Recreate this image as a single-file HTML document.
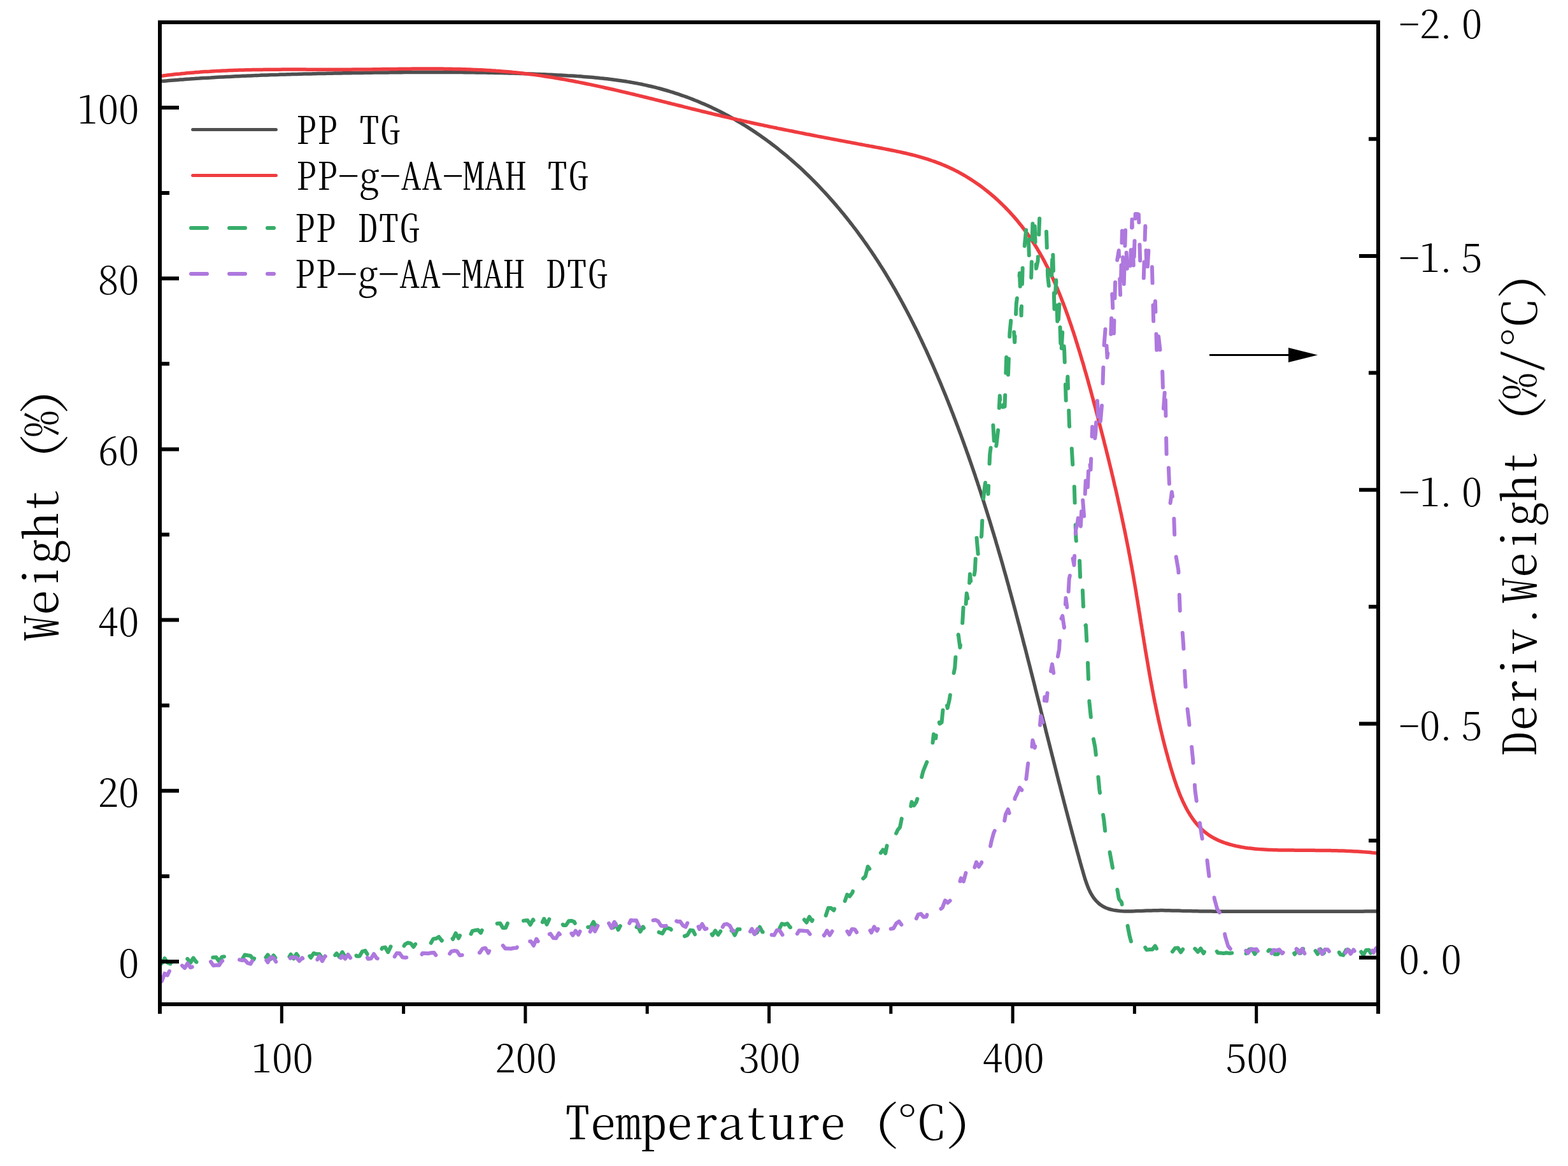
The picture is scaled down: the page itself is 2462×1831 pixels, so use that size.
<!DOCTYPE html><html><head><meta charset="utf-8"><title>TG/DTG</title><style>
html,body{margin:0;padding:0;background:#fff;overflow:hidden;}svg{display:block;}
.t{font-family:"Noto Serif CJK SC","Liberation Serif","Noto Serif CJK JP",serif;font-feature-settings:"hwid" 1;font-weight:300;fill:#000;}
</style></head><body>
<svg width="2462" height="1831" viewBox="0 0 2462 1831">
<rect width="2462" height="1831" fill="#fff"/>
<defs><clipPath id="pc"><rect x="254" y="38" width="1907" height="1536"/></clipPath></defs>
<g clip-path="url(#pc)" fill="none" stroke-linejoin="round">
<path d="M254 127.5 L257.7 127.2 L261.3 126.9 L265 126.6 L268.6 126.3 L272.3 126 L275.9 125.7 L279.5 125.4 L283.2 125.1 L286.8 124.9 L290.5 124.6 L294.1 124.3 L297.8 124.1 L301.4 123.8 L305.1 123.6 L308.7 123.3 L312.4 123.1 L316 122.8 L319.7 122.6 L323.3 122.4 L327 122.2 L330.7 122 L334.3 121.7 L338 121.5 L341.6 121.3 L345.3 121.1 L348.9 120.9 L352.6 120.7 L356.3 120.5 L359.9 120.4 L363.6 120.2 L367.2 120 L370.9 119.8 L374.6 119.7 L378.2 119.5 L381.9 119.3 L385.5 119.2 L389.2 119 L392.9 118.9 L396.5 118.7 L400.2 118.6 L403.9 118.4 L407.5 118.3 L411.2 118.1 L414.9 118 L418.5 117.9 L422.2 117.7 L425.9 117.6 L429.5 117.5 L433.2 117.4 L436.9 117.3 L440.5 117.1 L444.2 117 L447.8 116.9 L451.5 116.8 L455.2 116.7 L458.8 116.6 L462.5 116.5 L466.2 116.4 L469.8 116.3 L473.5 116.2 L477.2 116.1 L480.8 116 L484.5 116 L488.2 115.9 L491.8 115.8 L495.5 115.7 L499.2 115.6 L502.8 115.5 L506.5 115.5 L510.2 115.4 L513.8 115.3 L517.5 115.2 L521.2 115.2 L524.8 115.1 L528.5 115 L532.1 115 L535.8 114.9 L539.5 114.8 L543.1 114.8 L546.8 114.7 L550.5 114.7 L554.1 114.6 L557.8 114.5 L561.4 114.5 L565.1 114.4 L568.8 114.4 L572.4 114.3 L576.1 114.3 L579.7 114.2 L583.4 114.2 L587 114.1 L590.7 114.1 L594.4 114 L598 114 L601.7 113.9 L605.3 113.9 L609 113.9 L612.6 113.8 L616.3 113.8 L620 113.7 L623.6 113.7 L627.3 113.7 L630.9 113.7 L634.6 113.6 L638.2 113.6 L641.9 113.6 L645.5 113.6 L649.2 113.5 L652.8 113.5 L656.5 113.5 L660.2 113.5 L663.8 113.5 L667.5 113.5 L671.1 113.5 L674.8 113.4 L678.4 113.4 L682.1 113.4 L685.7 113.4 L689.4 113.5 L693 113.5 L696.7 113.5 L700.4 113.5 L704 113.5 L707.7 113.5 L711.3 113.5 L715 113.6 L718.6 113.6 L722.3 113.6 L725.9 113.6 L729.6 113.7 L733.3 113.7 L736.9 113.8 L740.6 113.8 L744.2 113.8 L747.9 113.9 L751.5 113.9 L755.2 114 L758.9 114.1 L762.5 114.1 L766.2 114.2 L769.8 114.3 L773.5 114.3 L777.2 114.4 L780.8 114.5 L784.5 114.6 L788.1 114.6 L791.8 114.7 L795.5 114.8 L799.1 114.9 L802.8 115 L806.4 115.1 L810.1 115.2 L813.8 115.3 L817.4 115.5 L821.1 115.6 L824.8 115.7 L828.4 115.8 L832.1 116 L835.8 116.1 L839.4 116.2 L843.1 116.4 L846.8 116.5 L850.5 116.7 L854.1 116.8 L857.8 117 L861.5 117.2 L865.1 117.3 L868.8 117.5 L872.5 117.7 L876.2 117.9 L879.8 118 L883.5 118.2 L887.2 118.4 L890.9 118.7 L894.5 118.9 L898.2 119.1 L901.9 119.3 L905.6 119.6 L909.2 119.8 L912.9 120.1 L916.6 120.4 L920.2 120.7 L923.9 121 L927.6 121.3 L931.2 121.6 L934.9 121.9 L938.5 122.3 L942.2 122.7 L945.8 123 L949.5 123.4 L953.1 123.8 L956.8 124.3 L960.4 124.7 L964.1 125.2 L967.7 125.7 L971.3 126.2 L975 126.7 L978.6 127.2 L982.2 127.8 L985.8 128.4 L989.4 129 L993 129.6 L996.6 130.3 L1000.2 130.9 L1003.8 131.6 L1007.4 132.3 L1010.9 133.1 L1014.5 133.9 L1018.1 134.7 L1021.6 135.5 L1025.2 136.3 L1028.7 137.2 L1032.3 138.1 L1035.8 139 L1039.3 140 L1042.9 141 L1046.4 142 L1049.9 143 L1053.4 144.1 L1056.9 145.1 L1060.3 146.3 L1063.8 147.4 L1067.3 148.6 L1070.7 149.8 L1074.2 151 L1077.6 152.2 L1081.1 153.5 L1084.5 154.8 L1087.9 156.1 L1091.3 157.5 L1094.7 158.8 L1098.1 160.2 L1101.4 161.7 L1104.8 163.1 L1108.1 164.6 L1111.5 166.1 L1114.8 167.6 L1118.1 169.1 L1121.4 170.7 L1124.7 172.3 L1128 173.9 L1131.2 175.5 L1134.5 177.2 L1137.7 178.9 L1141 180.6 L1144.2 182.3 L1147.4 184.1 L1150.6 185.9 L1153.8 187.7 L1156.9 189.5 L1160.1 191.3 L1163.2 193.2 L1166.3 195.1 L1169.5 197 L1172.5 198.9 L1175.6 200.9 L1178.7 202.9 L1181.8 204.9 L1184.8 206.9 L1187.8 208.9 L1190.8 211 L1193.8 213.1 L1196.8 215.2 L1199.8 217.3 L1202.8 219.4 L1205.7 221.6 L1208.7 223.8 L1211.6 226 L1214.5 228.2 L1217.4 230.4 L1220.3 232.7 L1223.1 235 L1226 237.3 L1228.8 239.6 L1231.6 241.9 L1234.5 244.2 L1237.3 246.6 L1240 249 L1242.8 251.4 L1245.6 253.8 L1248.3 256.2 L1251.1 258.7 L1253.8 261.1 L1256.5 263.6 L1259.2 266.1 L1261.8 268.6 L1264.5 271.2 L1267.2 273.7 L1269.8 276.3 L1272.4 278.8 L1275 281.4 L1277.6 284 L1280.2 286.7 L1282.8 289.3 L1285.3 291.9 L1287.9 294.6 L1290.4 297.3 L1292.9 300 L1295.4 302.7 L1297.9 305.4 L1300.4 308.1 L1302.8 310.8 L1305.3 313.6 L1307.7 316.4 L1310.1 319.1 L1312.5 321.9 L1314.9 324.7 L1317.3 327.5 L1319.7 330.4 L1322 333.2 L1324.4 336.1 L1326.7 338.9 L1329 341.8 L1331.3 344.7 L1333.6 347.6 L1335.8 350.5 L1338.1 353.4 L1340.3 356.3 L1342.5 359.2 L1344.8 362.1 L1347 365.1 L1349.1 368.1 L1351.3 371 L1353.5 374 L1355.6 377 L1357.7 380 L1359.9 383 L1362 386 L1364 389 L1366.1 392 L1368.2 395 L1370.2 398.1 L1372.3 401.1 L1374.3 404.2 L1376.3 407.2 L1378.3 410.3 L1380.3 413.4 L1382.2 416.5 L1384.2 419.5 L1386.1 422.6 L1388.1 425.7 L1390 428.8 L1391.9 432 L1393.8 435.1 L1395.6 438.2 L1397.5 441.3 L1399.4 444.5 L1401.2 447.6 L1403 450.8 L1404.9 453.9 L1406.7 457.1 L1408.5 460.3 L1410.2 463.4 L1412 466.6 L1413.8 469.8 L1415.5 473 L1417.3 476.2 L1419 479.4 L1420.7 482.6 L1422.4 485.8 L1424.1 489 L1425.8 492.3 L1427.5 495.5 L1429.2 498.7 L1430.8 502 L1432.5 505.2 L1434.1 508.5 L1435.7 511.7 L1437.4 515 L1439 518.3 L1440.6 521.5 L1442.2 524.8 L1443.7 528.1 L1445.3 531.4 L1446.9 534.7 L1448.4 538 L1450 541.3 L1451.5 544.6 L1453.1 547.9 L1454.6 551.2 L1456.1 554.5 L1457.6 557.8 L1459.1 561.2 L1460.6 564.5 L1462.1 567.8 L1463.6 571.2 L1465.1 574.5 L1466.5 577.9 L1468 581.2 L1469.4 584.6 L1470.9 587.9 L1472.3 591.3 L1473.7 594.7 L1475.2 598.1 L1476.6 601.4 L1478 604.8 L1479.4 608.2 L1480.8 611.6 L1482.2 615 L1483.6 618.4 L1485 621.7 L1486.3 625.1 L1487.7 628.5 L1489.1 632 L1490.4 635.4 L1491.8 638.8 L1493.1 642.2 L1494.4 645.6 L1495.8 649 L1497.1 652.5 L1498.4 655.9 L1499.7 659.3 L1501 662.7 L1502.3 666.2 L1503.6 669.6 L1504.9 673.1 L1506.2 676.5 L1507.5 679.9 L1508.8 683.4 L1510 686.8 L1511.3 690.3 L1512.5 693.7 L1513.8 697.2 L1515 700.7 L1516.3 704.1 L1517.5 707.6 L1518.7 711.1 L1520 714.5 L1521.2 718 L1522.4 721.5 L1523.6 724.9 L1524.8 728.4 L1526 731.9 L1527.2 735.4 L1528.4 738.9 L1529.6 742.3 L1530.8 745.8 L1531.9 749.3 L1533.1 752.8 L1534.3 756.3 L1535.4 759.8 L1536.6 763.3 L1537.7 766.8 L1538.9 770.3 L1540 773.8 L1541.1 777.3 L1542.3 780.8 L1543.4 784.3 L1544.5 787.8 L1545.6 791.3 L1546.7 794.8 L1547.8 798.3 L1548.9 801.8 L1550 805.3 L1551.1 808.8 L1552.2 812.3 L1553.3 815.8 L1554.4 819.3 L1555.4 822.8 L1556.5 826.4 L1557.6 829.9 L1558.6 833.4 L1559.7 836.9 L1560.8 840.4 L1561.8 843.9 L1562.9 847.4 L1563.9 851 L1564.9 854.5 L1566 858 L1567 861.5 L1568 865 L1569 868.5 L1570.1 872.1 L1571.1 875.6 L1572.1 879.1 L1573.1 882.6 L1574.1 886.1 L1575.1 889.6 L1576.1 893.2 L1577.1 896.7 L1578.1 900.2 L1579.1 903.7 L1580.1 907.2 L1581 910.8 L1582 914.3 L1583 917.8 L1584 921.3 L1584.9 924.9 L1585.9 928.4 L1586.9 931.9 L1587.8 935.4 L1588.8 938.9 L1589.7 942.5 L1590.7 946 L1591.6 949.5 L1592.6 953 L1593.5 956.6 L1594.5 960.1 L1595.4 963.6 L1596.3 967.1 L1597.3 970.7 L1598.2 974.2 L1599.1 977.7 L1600.1 981.3 L1601 984.8 L1601.9 988.3 L1602.8 991.8 L1603.8 995.4 L1604.7 998.9 L1605.6 1002.4 L1606.5 1006 L1607.4 1009.5 L1608.3 1013 L1609.3 1016.6 L1610.2 1020.1 L1611.1 1023.6 L1612 1027.2 L1612.9 1030.7 L1613.8 1034.2 L1614.7 1037.8 L1615.6 1041.3 L1616.5 1044.8 L1617.4 1048.4 L1618.3 1051.9 L1619.2 1055.5 L1620.1 1059 L1621 1062.5 L1621.9 1066.1 L1622.8 1069.6 L1623.7 1073.2 L1624.6 1076.7 L1625.4 1080.2 L1626.3 1083.8 L1627.2 1087.3 L1628.1 1090.9 L1629 1094.4 L1629.9 1098 L1630.8 1101.5 L1631.7 1105.1 L1632.6 1108.6 L1633.5 1112.2 L1634.3 1115.7 L1635.2 1119.2 L1636.1 1122.8 L1637 1126.3 L1637.9 1129.9 L1638.8 1133.4 L1639.7 1137 L1640.6 1140.5 L1641.5 1144.1 L1642.3 1147.7 L1643.2 1151.2 L1644.1 1154.8 L1645 1158.3 L1645.9 1161.9 L1646.8 1165.4 L1647.7 1169 L1648.6 1172.5 L1649.5 1176.1 L1650.4 1179.7 L1651.3 1183.2 L1652.2 1186.8 L1653.1 1190.3 L1654 1193.9 L1654.9 1197.5 L1655.8 1201 L1656.7 1204.6 L1657.6 1208.2 L1658.5 1211.7 L1659.4 1215.3 L1660.3 1218.9 L1661.2 1222.4 L1662.1 1226 L1663 1229.6 L1664 1233.1 L1664.9 1236.7 L1665.8 1240.3 L1666.7 1243.8 L1667.6 1247.4 L1668.6 1251 L1669.5 1254.6 L1670.4 1258.1 L1671.3 1261.7 L1672.3 1265.3 L1673.2 1268.9 L1674.1 1272.4 L1675.1 1276 L1676 1279.6 L1677 1283.2 L1677.9 1286.7 L1678.9 1290.3 L1679.8 1293.9 L1680.8 1297.5 L1681.7 1301.1 L1682.7 1304.7 L1683.6 1308.2 L1684.6 1311.8 L1685.6 1315.4 L1686.5 1319 L1687.5 1322.6 L1688.5 1326.2 L1689.5 1329.8 L1690.5 1333.4 L1691.4 1336.9 L1692.4 1340.5 L1693.4 1344.1 L1694.4 1347.7 L1695.4 1351.3 L1696.4 1354.9 L1697.4 1358.5 L1698.4 1362.1 L1699.5 1365.7 L1700.5 1369.3 L1701.5 1372.9 L1702.6 1376.5 L1703.6 1380 L1704.8 1383.5 L1706 1387 L1707.2 1390.3 L1708.5 1393.7 L1709.9 1396.9 L1711.4 1400.1 L1713 1403.1 L1714.7 1406 L1716.5 1408.8 L1718.5 1411.5 L1720.6 1414.1 L1722.9 1416.4 L1725.3 1418.7 L1727.9 1420.7 L1730.6 1422.6 L1733.6 1424.2 L1736.7 1425.7 L1740 1427 L1743.4 1428 L1747 1428.9 L1750.6 1429.6 L1754.4 1430.1 L1758.1 1430.5 L1762 1430.8 L1765.8 1430.9 L1769.7 1430.9 L1773.6 1430.9 L1777.5 1430.9 L1781.3 1430.8 L1785.2 1430.6 L1788.9 1430.5 L1792.7 1430.4 L1796.4 1430.2 L1800.1 1430.1 L1803.7 1430 L1807.4 1429.9 L1811 1429.8 L1814.7 1429.7 L1818.3 1429.7 L1821.9 1429.6 L1825.5 1429.6 L1829.2 1429.7 L1832.8 1429.7 L1836.4 1429.8 L1840 1429.9 L1843.7 1430 L1847.3 1430 L1850.9 1430.1 L1854.6 1430.3 L1858.2 1430.4 L1861.8 1430.4 L1865.5 1430.5 L1869.1 1430.6 L1872.8 1430.7 L1876.4 1430.8 L1880.1 1430.8 L1883.7 1430.9 L1887.4 1431 L1891 1431 L1894.7 1431.1 L1898.4 1431.1 L1902 1431.1 L1905.7 1431.2 L1909.3 1431.2 L1913 1431.2 L1916.7 1431.2 L1920.3 1431.3 L1924 1431.3 L1927.7 1431.3 L1931.3 1431.3 L1935 1431.3 L1938.7 1431.3 L1942.4 1431.3 L1946 1431.3 L1949.7 1431.3 L1953.4 1431.3 L1957 1431.3 L1960.7 1431.3 L1964.4 1431.3 L1968.1 1431.3 L1971.7 1431.3 L1975.4 1431.3 L1979.1 1431.3 L1982.7 1431.3 L1986.4 1431.2 L1990.1 1431.2 L1993.7 1431.2 L1997.4 1431.2 L2001.1 1431.2 L2004.7 1431.2 L2008.4 1431.2 L2012.1 1431.2 L2015.7 1431.2 L2019.4 1431.2 L2023.1 1431.2 L2026.7 1431.2 L2030.4 1431.2 L2034 1431.2 L2037.7 1431.2 L2041.4 1431.2 L2045 1431.2 L2048.7 1431.2 L2052.3 1431.2 L2056 1431.2 L2059.6 1431.2 L2063.3 1431.3 L2067 1431.3 L2070.6 1431.3 L2074.3 1431.3 L2077.9 1431.3 L2081.6 1431.3 L2085.2 1431.3 L2088.9 1431.3 L2092.5 1431.3 L2096.2 1431.3 L2099.9 1431.3 L2103.5 1431.3 L2107.2 1431.3 L2110.8 1431.3 L2114.5 1431.2 L2118.2 1431.2 L2121.8 1431.2 L2125.5 1431.2 L2129.1 1431.2 L2132.8 1431.2 L2136.5 1431.2 L2140.1 1431.2 L2143.8 1431.1 L2147.5 1431.1 L2151.2 1431.1 L2154.8 1431.1 L2158.5 1431 L2164 1431" stroke="#4f4f4f" stroke-width="5.5"/>
<path d="M253.9 119.2 L257.5 118.7 L261.1 118.3 L264.7 117.8 L268.2 117.4 L271.8 117 L275.4 116.6 L279 116.2 L282.6 115.9 L286.1 115.5 L289.7 115.2 L293.3 114.8 L296.9 114.5 L300.4 114.2 L304 113.9 L307.6 113.6 L311.2 113.4 L314.8 113.1 L318.3 112.8 L321.9 112.6 L325.5 112.4 L329.1 112.2 L332.6 111.9 L336.2 111.7 L339.8 111.6 L343.3 111.4 L346.9 111.2 L350.5 111 L354.1 110.9 L357.6 110.7 L361.2 110.6 L364.8 110.5 L368.4 110.3 L371.9 110.2 L375.5 110.1 L379.1 110 L382.6 109.9 L386.2 109.8 L389.8 109.7 L393.4 109.7 L396.9 109.6 L400.5 109.5 L404.1 109.5 L407.6 109.4 L411.2 109.4 L414.8 109.3 L418.3 109.3 L421.9 109.3 L425.5 109.2 L429.1 109.2 L432.6 109.2 L436.2 109.2 L439.8 109.2 L443.4 109.1 L446.9 109.1 L450.5 109.1 L454.1 109.1 L457.6 109.1 L461.2 109.1 L464.8 109.1 L468.4 109.1 L471.9 109.1 L475.5 109.1 L479.1 109.1 L482.7 109.2 L486.3 109.2 L489.8 109.2 L493.4 109.2 L497 109.2 L500.6 109.2 L504.1 109.2 L507.7 109.2 L511.3 109.2 L514.9 109.2 L518.5 109.2 L522 109.2 L525.6 109.2 L529.2 109.2 L532.8 109.2 L536.4 109.2 L540 109.2 L543.5 109.2 L547.1 109.2 L550.7 109.2 L554.3 109.1 L557.9 109.1 L561.5 109.1 L565.1 109.1 L568.7 109 L572.3 109 L575.8 109 L579.4 108.9 L583 108.9 L586.6 108.8 L590.2 108.8 L593.8 108.7 L597.4 108.7 L601 108.6 L604.6 108.6 L608.2 108.6 L611.8 108.5 L615.4 108.5 L619 108.4 L622.6 108.4 L626.2 108.3 L629.8 108.3 L633.4 108.3 L637 108.2 L640.5 108.2 L644.1 108.2 L647.7 108.1 L651.3 108.1 L654.9 108.1 L658.5 108.1 L662.1 108.1 L665.7 108 L669.3 108 L672.9 108 L676.5 108 L680.1 108.1 L683.7 108.1 L687.3 108.1 L690.9 108.1 L694.4 108.1 L698 108.2 L701.6 108.2 L705.2 108.3 L708.8 108.3 L712.4 108.4 L716 108.5 L719.6 108.6 L723.1 108.6 L726.7 108.7 L730.3 108.8 L733.9 109 L737.5 109.1 L741 109.2 L744.6 109.4 L748.2 109.5 L751.8 109.7 L755.4 109.8 L758.9 110 L762.5 110.2 L766.1 110.4 L769.6 110.6 L773.2 110.9 L776.8 111.1 L780.3 111.4 L783.9 111.6 L787.5 111.9 L791 112.2 L794.6 112.5 L798.2 112.8 L801.7 113.1 L805.3 113.5 L808.8 113.8 L812.4 114.2 L815.9 114.6 L819.5 115 L823 115.4 L826.6 115.8 L830.1 116.2 L833.6 116.7 L837.2 117.1 L840.7 117.6 L844.3 118.1 L847.8 118.6 L851.3 119.1 L854.9 119.7 L858.4 120.2 L861.9 120.7 L865.5 121.3 L869 121.9 L872.5 122.5 L876 123.1 L879.6 123.7 L883.1 124.3 L886.6 124.9 L890.1 125.5 L893.6 126.2 L897.1 126.8 L900.7 127.5 L904.2 128.2 L907.7 128.9 L911.2 129.6 L914.7 130.3 L918.2 131 L921.7 131.7 L925.2 132.4 L928.7 133.1 L932.2 133.9 L935.7 134.6 L939.2 135.4 L942.8 136.1 L946.3 136.9 L949.8 137.7 L953.3 138.5 L956.7 139.2 L960.2 140 L963.7 140.8 L967.2 141.6 L970.7 142.4 L974.2 143.3 L977.7 144.1 L981.2 144.9 L984.7 145.7 L988.2 146.6 L991.7 147.4 L995.2 148.2 L998.7 149.1 L1002.2 149.9 L1005.6 150.8 L1009.1 151.6 L1012.6 152.5 L1016.1 153.3 L1019.6 154.2 L1023.1 155 L1026.6 155.9 L1030 156.8 L1033.5 157.6 L1037 158.5 L1040.5 159.4 L1044 160.2 L1047.5 161.1 L1050.9 162 L1054.4 162.9 L1057.9 163.7 L1061.4 164.6 L1064.9 165.5 L1068.3 166.3 L1071.8 167.2 L1075.3 168.1 L1078.8 168.9 L1082.3 169.8 L1085.7 170.7 L1089.2 171.5 L1092.7 172.4 L1096.2 173.2 L1099.7 174.1 L1103.1 175 L1106.6 175.8 L1110.1 176.6 L1113.6 177.5 L1117.1 178.3 L1120.5 179.2 L1124 180 L1127.5 180.8 L1131 181.6 L1134.5 182.5 L1137.9 183.3 L1141.4 184.1 L1144.9 184.9 L1148.4 185.7 L1151.9 186.5 L1155.3 187.3 L1158.8 188.1 L1162.3 188.8 L1165.8 189.6 L1169.3 190.4 L1172.8 191.2 L1176.2 191.9 L1179.7 192.7 L1183.2 193.5 L1186.7 194.2 L1190.2 195 L1193.7 195.7 L1197.2 196.4 L1200.6 197.2 L1204.1 197.9 L1207.6 198.7 L1211.1 199.4 L1214.6 200.1 L1218.1 200.8 L1221.6 201.6 L1225.1 202.3 L1228.6 203 L1232.1 203.7 L1235.6 204.4 L1239.1 205.1 L1242.6 205.8 L1246.1 206.5 L1249.6 207.2 L1253.1 207.9 L1256.6 208.6 L1260.1 209.3 L1263.6 210 L1267.1 210.7 L1270.6 211.3 L1274.1 212 L1277.6 212.7 L1281.1 213.4 L1284.6 214.1 L1288.1 214.7 L1291.6 215.4 L1295.2 216.1 L1298.7 216.8 L1302.2 217.4 L1305.7 218.1 L1309.2 218.8 L1312.8 219.4 L1316.3 220.1 L1319.8 220.8 L1323.3 221.4 L1326.9 222.1 L1330.4 222.8 L1333.9 223.4 L1337.5 224.1 L1341 224.8 L1344.5 225.4 L1348.1 226.1 L1351.6 226.7 L1355.2 227.4 L1358.7 228.1 L1362.3 228.7 L1365.8 229.4 L1369.4 230 L1372.9 230.7 L1376.5 231.4 L1380 232 L1383.6 232.7 L1387.1 233.4 L1390.7 234.1 L1394.2 234.8 L1397.8 235.5 L1401.3 236.2 L1404.9 236.9 L1408.4 237.7 L1411.9 238.4 L1415.5 239.2 L1419 240 L1422.5 240.8 L1426 241.6 L1429.5 242.5 L1433 243.3 L1436.4 244.2 L1439.9 245.2 L1443.4 246.1 L1446.8 247.1 L1450.2 248.1 L1453.6 249.2 L1457 250.2 L1460.4 251.3 L1463.8 252.5 L1467.2 253.6 L1470.5 254.9 L1473.8 256.1 L1477.2 257.4 L1480.4 258.7 L1483.7 260.1 L1487 261.5 L1490.2 263 L1493.4 264.5 L1496.6 266 L1499.8 267.6 L1503 269.2 L1506.1 270.9 L1509.2 272.6 L1512.3 274.4 L1515.4 276.2 L1518.4 278 L1521.4 279.9 L1524.5 281.8 L1527.4 283.7 L1530.4 285.7 L1533.3 287.7 L1536.3 289.7 L1539.2 291.8 L1542 293.9 L1544.9 296.1 L1547.7 298.3 L1550.5 300.5 L1553.3 302.8 L1556 305 L1558.7 307.4 L1561.4 309.7 L1564.1 312.1 L1566.8 314.5 L1569.4 316.9 L1572 319.4 L1574.5 321.9 L1577.1 324.4 L1579.6 327 L1582.1 329.6 L1584.6 332.2 L1587 334.8 L1589.4 337.5 L1591.8 340.2 L1594.1 342.9 L1596.5 345.6 L1598.8 348.4 L1601 351.2 L1603.3 354 L1605.5 356.8 L1607.6 359.6 L1609.8 362.5 L1611.9 365.4 L1614 368.3 L1616 371.3 L1618.1 374.2 L1620.1 377.2 L1622 380.2 L1624 383.2 L1625.9 386.2 L1627.8 389.2 L1629.6 392.3 L1631.4 395.4 L1633.2 398.5 L1635 401.6 L1636.8 404.7 L1638.5 407.9 L1640.2 411 L1641.8 414.2 L1643.5 417.4 L1645.1 420.6 L1646.7 423.8 L1648.3 427 L1649.9 430.2 L1651.4 433.5 L1652.9 436.7 L1654.4 440 L1655.9 443.3 L1657.3 446.6 L1658.7 449.9 L1660.2 453.2 L1661.5 456.5 L1662.9 459.8 L1664.3 463.2 L1665.6 466.5 L1666.9 469.9 L1668.2 473.2 L1669.5 476.6 L1670.8 479.9 L1672.1 483.3 L1673.3 486.7 L1674.5 490.1 L1675.8 493.5 L1677 496.9 L1678.2 500.3 L1679.3 503.7 L1680.5 507.1 L1681.7 510.5 L1682.8 513.9 L1683.9 517.3 L1685.1 520.7 L1686.2 524.1 L1687.3 527.5 L1688.4 530.9 L1689.4 534.4 L1690.5 537.8 L1691.6 541.2 L1692.6 544.6 L1693.7 548 L1694.7 551.4 L1695.8 554.8 L1696.8 558.3 L1697.8 561.7 L1698.8 565.1 L1699.9 568.5 L1700.9 571.9 L1701.9 575.4 L1702.8 578.8 L1703.8 582.2 L1704.8 585.6 L1705.8 589 L1706.8 592.5 L1707.7 595.9 L1708.7 599.3 L1709.6 602.8 L1710.6 606.2 L1711.5 609.6 L1712.5 613.1 L1713.4 616.5 L1714.3 619.9 L1715.3 623.4 L1716.2 626.8 L1717.1 630.3 L1718 633.7 L1719 637.1 L1719.9 640.6 L1720.8 644 L1721.7 647.5 L1722.6 651 L1723.5 654.4 L1724.4 657.9 L1725.3 661.3 L1726.2 664.8 L1727.1 668.3 L1728 671.7 L1728.9 675.2 L1729.8 678.7 L1730.7 682.1 L1731.6 685.6 L1732.5 689.1 L1733.4 692.6 L1734.2 696.1 L1735.1 699.5 L1736 703 L1736.9 706.5 L1737.7 710 L1738.6 713.5 L1739.5 717 L1740.3 720.5 L1741.2 723.9 L1742 727.4 L1742.9 730.9 L1743.7 734.4 L1744.6 737.9 L1745.4 741.4 L1746.2 744.9 L1747.1 748.4 L1747.9 751.9 L1748.7 755.4 L1749.5 758.9 L1750.3 762.4 L1751.2 765.9 L1752 769.4 L1752.8 772.9 L1753.6 776.4 L1754.4 780 L1755.2 783.5 L1755.9 787 L1756.7 790.5 L1757.5 794 L1758.3 797.5 L1759 801 L1759.8 804.5 L1760.6 808 L1761.3 811.6 L1762.1 815.1 L1762.8 818.6 L1763.6 822.1 L1764.3 825.6 L1765 829.1 L1765.8 832.6 L1766.5 836.1 L1767.2 839.7 L1767.9 843.2 L1768.6 846.7 L1769.3 850.2 L1770 853.7 L1770.7 857.2 L1771.4 860.7 L1772.1 864.3 L1772.7 867.8 L1773.4 871.3 L1774.1 874.8 L1774.7 878.3 L1775.4 881.8 L1776 885.3 L1776.7 888.8 L1777.3 892.4 L1777.9 895.9 L1778.6 899.4 L1779.2 902.9 L1779.8 906.4 L1780.4 909.9 L1781 913.4 L1781.6 916.9 L1782.2 920.4 L1782.8 923.9 L1783.4 927.5 L1784 931 L1784.5 934.5 L1785.1 938 L1785.7 941.5 L1786.3 945 L1786.8 948.5 L1787.4 952 L1788 955.5 L1788.5 959 L1789.1 962.5 L1789.7 966 L1790.2 969.5 L1790.8 973 L1791.3 976.6 L1791.9 980.1 L1792.5 983.6 L1793 987.1 L1793.6 990.6 L1794.2 994.1 L1794.7 997.6 L1795.3 1001.1 L1795.9 1004.6 L1796.4 1008.1 L1797 1011.6 L1797.6 1015.1 L1798.1 1018.7 L1798.7 1022.2 L1799.3 1025.7 L1799.9 1029.2 L1800.5 1032.7 L1801.1 1036.2 L1801.7 1039.7 L1802.3 1043.2 L1802.9 1046.8 L1803.5 1050.3 L1804.1 1053.8 L1804.7 1057.3 L1805.3 1060.8 L1806 1064.3 L1806.6 1067.9 L1807.2 1071.4 L1807.9 1074.9 L1808.6 1078.4 L1809.2 1081.9 L1809.9 1085.5 L1810.6 1089 L1811.2 1092.5 L1811.9 1096 L1812.6 1099.6 L1813.3 1103.1 L1814.1 1106.6 L1814.8 1110.2 L1815.5 1113.7 L1816.3 1117.2 L1817 1120.8 L1817.8 1124.3 L1818.5 1127.8 L1819.3 1131.4 L1820.1 1134.9 L1820.9 1138.4 L1821.7 1142 L1822.5 1145.5 L1823.4 1149.1 L1824.2 1152.6 L1825.1 1156.1 L1825.9 1159.7 L1826.8 1163.2 L1827.7 1166.8 L1828.6 1170.3 L1829.5 1173.9 L1830.5 1177.4 L1831.4 1181 L1832.4 1184.6 L1833.4 1188.1 L1834.3 1191.7 L1835.3 1195.2 L1836.4 1198.8 L1837.4 1202.4 L1838.4 1205.9 L1839.5 1209.5 L1840.6 1213.1 L1841.7 1216.6 L1842.8 1220.2 L1843.9 1223.7 L1845.1 1227.2 L1846.3 1230.7 L1847.5 1234.2 L1848.8 1237.7 L1850.1 1241.1 L1851.4 1244.6 L1852.7 1247.9 L1854.1 1251.3 L1855.6 1254.6 L1857 1257.9 L1858.5 1261.1 L1860.1 1264.3 L1861.7 1267.4 L1863.3 1270.5 L1865 1273.6 L1866.8 1276.5 L1868.6 1279.5 L1870.4 1282.3 L1872.3 1285.1 L1874.3 1287.9 L1876.3 1290.5 L1878.4 1293.1 L1880.6 1295.6 L1882.8 1298 L1885.1 1300.4 L1887.4 1302.7 L1889.8 1304.9 L1892.3 1306.9 L1894.9 1308.9 L1897.5 1310.9 L1900.2 1312.7 L1903 1314.4 L1905.9 1316 L1908.8 1317.5 L1911.8 1319 L1914.9 1320.4 L1918 1321.6 L1921.2 1322.9 L1924.4 1324 L1927.7 1325 L1931 1326 L1934.4 1326.9 L1937.8 1327.8 L1941.3 1328.6 L1944.8 1329.3 L1948.3 1330 L1951.9 1330.6 L1955.5 1331.2 L1959.1 1331.7 L1962.8 1332.1 L1966.5 1332.5 L1970.2 1332.9 L1973.9 1333.3 L1977.7 1333.6 L1981.4 1333.8 L1985.2 1334 L1989 1334.2 L1992.8 1334.4 L1996.5 1334.5 L2000.3 1334.7 L2004.1 1334.8 L2007.9 1334.9 L2011.7 1334.9 L2015.4 1335 L2019.2 1335 L2022.9 1335.1 L2026.7 1335.1 L2030.4 1335.1 L2034.1 1335.2 L2037.7 1335.2 L2041.4 1335.2 L2045.1 1335.2 L2048.7 1335.2 L2052.3 1335.3 L2055.9 1335.3 L2059.5 1335.3 L2063.1 1335.3 L2066.7 1335.4 L2070.3 1335.4 L2073.9 1335.4 L2077.4 1335.4 L2081 1335.5 L2084.5 1335.5 L2088.1 1335.6 L2091.6 1335.7 L2095.1 1335.7 L2098.6 1335.8 L2102.2 1335.9 L2105.7 1336 L2109.2 1336.1 L2112.7 1336.2 L2116.2 1336.4 L2119.7 1336.5 L2123.2 1336.7 L2126.7 1336.9 L2130.2 1337.1 L2133.7 1337.3 L2137.2 1337.5 L2140.7 1337.8 L2144.2 1338 L2147.7 1338.3 L2151.2 1338.6 L2154.7 1339 L2158.3 1339.3 L2163.5 1339.9" stroke="#ef3c40" stroke-width="5.5"/>
<path d="M254 1512.8 L258.5 1504.9 L263 1511.7 L267.5 1513.4 L272 1505.9 L276.5 1511.9 L281 1512.7 L285.5 1511.6 L290 1504.8 L294.5 1505.8 L299 1511.9 L303.5 1504.3 L308 1510.6 L312.5 1511.4 L317 1510.2 L321.5 1503.8 L326 1509.4 L330.5 1503.4 L335 1503.6 L339.5 1503.3 L344 1509.8 L348.5 1502.7 L353 1502 L357.5 1509.5 L362 1509.3 L366.5 1508.5 L371 1507.8 L375.5 1507 L380 1506.6 L384.5 1499.4 L389 1500.3 L393.5 1501 L398 1507.1 L402.5 1499.3 L407 1506.8 L411.5 1498.8 L416 1505.3 L420.5 1499.4 L425 1506.1 L429.5 1500.3 L434 1506.3 L438.5 1498.3 L443 1506 L447.5 1505.1 L452 1506.3 L456.5 1498.7 L461 1505.4 L465.5 1497.9 L470 1504.3 L474.5 1497.5 L479 1505.3 L483.5 1497.3 L488 1503.9 L492.5 1497 L497 1498.2 L501.5 1498.2 L506 1504.7 L510.5 1496.1 L515 1504.3 L519.5 1503.2 L524 1502.5 L528.5 1497.2 L533 1502.9 L537.5 1495.1 L542 1502.8 L546.5 1495.5 L551 1500.8 L555.5 1494.1 L560 1501.5 L564.5 1501.6 L568.9 1494.1 L573.4 1492.9 L577.9 1500.2 L582.4 1498.7 L586.9 1498.6 L591.4 1492 L595.8 1497.5 L600.3 1488.4 L604.8 1487.6 L609.3 1495.2 L613.7 1485.9 L618.2 1491.7 L622.6 1483.6 L627.1 1489.7 L631.5 1490.4 L636 1482.8 L640.4 1480.4 L644.9 1481.4 L649.3 1487 L653.8 1480 L658.2 1478.6 L662.6 1479.1 L667.1 1484.5 L671.5 1477.8 L675.9 1482.2 L680.3 1474.4 L684.7 1473.8 L689.2 1471.2 L693.6 1477.3 L698 1468.5 L702.4 1475.9 L706.8 1467.4 L711.1 1474.8 L715.5 1465.4 L719.9 1473.3 L724.3 1464.8 L728.7 1471.3 L733.1 1463.7 L737.4 1471 L741.8 1461.9 L746.2 1460.9 L750.5 1460.2 L754.9 1464.9 L759.2 1455.7 L763.6 1454.4 L767.9 1454.6 L772.3 1459.9 L776.6 1451.7 L780.9 1450.2 L785.3 1449.9 L789.6 1457.1 L793.9 1457.1 L798.2 1447 L802.5 1447.4 L806.9 1454.4 L811.2 1453.8 L815.5 1446.8 L819.8 1446.2 L824.1 1445.6 L828.4 1445.3 L832.7 1452.1 L837 1444.1 L841.3 1453.3 L845.6 1443 L849.9 1452.4 L854.2 1442.8 L858.5 1451.8 L862.8 1442.5 L867.1 1443.4 L871.4 1452.3 L875.7 1451.6 L880 1445.2 L884.3 1452.9 L888.7 1453 L893 1446.3 L897.3 1445.9 L901.6 1447.5 L905.9 1456 L910.2 1447.5 L914.5 1448.8 L918.8 1457.2 L923.2 1455.9 L927.5 1455.8 L931.8 1447.6 L936.1 1455.5 L940.4 1448.1 L944.8 1456 L949.1 1456.8 L953.4 1456.8 L957.7 1458.9 L962.1 1458.3 L966.4 1450.1 L970.7 1460.1 L975 1452 L979.4 1452.8 L983.7 1453.7 L988 1461 L992.4 1462.7 L996.7 1461.1 L1001.1 1453.1 L1005.4 1463 L1009.7 1455.3 L1014.1 1463.3 L1018.4 1462.9 L1022.8 1456.1 L1027.1 1456 L1031.5 1462.8 L1035.8 1464.4 L1040.2 1465.9 L1044.5 1458 L1048.9 1457.4 L1053.2 1458.9 L1057.6 1466.4 L1062 1459.1 L1066.3 1461.9 L1070.7 1461.6 L1075 1470.1 L1079.4 1468.4 L1083.8 1460.6 L1088.2 1461.3 L1092.5 1470 L1096.9 1469.6 L1101.3 1468.9 L1105.6 1469.9 L1110 1468 L1114.4 1461.7 L1118.7 1468.7 L1123.1 1461.4 L1127.5 1467.9 L1131.8 1461.8 L1136.2 1468.7 L1140.6 1461.1 L1144.9 1468.9 L1149.3 1460.1 L1153.7 1468.6 L1158 1459.2 L1162.4 1459.3 L1166.7 1459.8 L1171.1 1467.2 L1175.5 1459 L1179.8 1459 L1184.2 1466.3 L1188.5 1464.7 L1192.9 1455.7 L1197.2 1463.6 L1201.6 1463.4 L1205.9 1461.4 L1210.3 1455.1 L1214.6 1453.2 L1218.9 1452.9 L1223.3 1459.4 L1227.6 1450.6 L1231.9 1451.9 L1236.3 1450.2 L1240.6 1456.2 L1244.9 1456.6 L1249.2 1447.4 L1253.6 1452.5 L1257.9 1450.9 L1262.2 1443.5 L1266.5 1448.5 L1270.8 1439.7 L1275 1446.3 L1279.3 1435.4 L1283.6 1444.5 L1287.9 1442.3 L1292.1 1440.1 L1296.4 1438.6 L1300.6 1425.7 L1304.9 1425.9 L1309.1 1429.6 L1313.3 1419.6 L1317.5 1423.8 L1321.7 1412.6 L1325.9 1417.2 L1330.1 1404.9 L1334.2 1407.6 L1338.4 1401.8 L1342.5 1387.4 L1346.6 1382.3 L1350.6 1387.5 L1354.7 1380.1 L1358.7 1376.3 L1362.7 1360.8 L1366.7 1366.4 L1370.7 1352.9 L1374.7 1349.6 L1378.6 1344.9 L1382.5 1339.9 L1386.4 1334.4 L1390.3 1340 L1394.2 1319.8 L1398.1 1313.1 L1401.9 1306.1 L1405.6 1312.1 L1409.4 1303.6 L1413.1 1298.8 L1416.9 1280.1 L1420.6 1276 L1424.2 1272.7 L1427.9 1278.1 L1431.5 1259.3 L1435.1 1264.8 L1438.7 1259.5 L1442.3 1248.4 L1445.8 1226 L1449.3 1211.6 L1452.7 1203.2 L1456.1 1194.9 L1459.5 1180.8 L1462.8 1181.3 L1466 1152.9 L1469.3 1159.4 L1472.4 1127.5 L1475.5 1136.4 L1478.6 1134.4 L1481.7 1102.4 L1484.7 1094.5 L1487.7 1111.9 L1490.7 1099.1 L1493.7 1079.4 L1496.5 1062.4 L1499.3 1048.5 L1502.1 1007.9 L1504.8 996.6 L1507.4 1016.8 L1510 998.2 L1512.6 953.9 L1515.2 968.8 L1517.8 931.7 L1520.4 945 L1523 901.5 L1525.6 924.8 L1528.2 911.3 L1530.8 896.3 L1533.4 843.7 L1536 873.5 L1538.6 851.6 L1541.2 841.3 L1543.8 784.6 L1546.4 762.9 L1549 743.3 L1551.6 775.7 L1554.2 713.8 L1556.8 694.1 L1559.4 667.8 L1562 713.6 L1564.6 697.9 L1567.2 674.7 L1569.8 621.6 L1572.4 650.8 L1575 635.8 L1577.6 638.4 L1580.2 561 L1582.8 592.4 L1585.4 522.9 L1588 495.6 L1590.6 498.3 L1593.2 537.3 L1595.8 476.9 L1598.4 456.5 L1601 429.1 L1603.6 495.3 L1606.2 401.5 L1608.8 385.4 L1611.4 358.3 L1614 351.4 L1616.6 422.4 L1619.2 436 L1621.8 336 L1624.4 345.7 L1627 421.6 L1629.6 409.6 L1632.2 342.7 L1634.8 337.6 L1637.4 339.4 L1640 345.8 L1642.6 351.1 L1645.2 433.4 L1647.8 457.5 L1650.4 455.5 L1653 386.5 L1655.6 490.3 L1658.2 439.9 L1660.8 520.5 L1663.4 477.9 L1666 560.5 L1668.6 515.4 L1671.2 551.8 L1673.8 631 L1676.4 591.6 L1679 668.5 L1681.6 684.5 L1684.2 728.4 L1686.8 763.2 L1689.4 845.5 L1692 869.9 L1694.6 869.3 L1697.2 931.8 L1699.8 925.3 L1702.4 984.3 L1705 981.8 L1707.6 1031.4 L1710.4 1102.2 L1713.3 1130.7 L1716.4 1158.1 L1719.5 1173.7 L1722.8 1203.1 L1726.2 1239.3 L1729.8 1264.7 L1733.4 1288.4 L1737.1 1322.9 L1740.9 1329.6 L1744.8 1350.7 L1748.8 1372.7 L1752.8 1388.1 L1756.9 1411.6 L1761 1416.9 L1765.3 1440.1 L1769.5 1448.7 L1773.8 1470.5 L1778.2 1486.5 L1782.6 1488.8 L1787.1 1491 L1791.5 1490 L1796 1484 L1800.4 1491.6 L1804.9 1491 L1809.3 1491 L1813.8 1485.5 L1818.2 1493.8 L1822.7 1494.5 L1827.2 1494.5 L1831.6 1488.4 L1836.1 1495.7 L1840.6 1494.8 L1845 1489 L1849.5 1488.5 L1854 1495.3 L1858.4 1489 L1862.9 1496.7 L1867.4 1489.4 L1871.9 1495.9 L1876.3 1489.8 L1880.8 1494.8 L1885.3 1489.5 L1889.7 1497 L1894.2 1488.6 L1898.7 1497 L1903.2 1490.4 L1907.6 1489 L1912.1 1496.3 L1916.6 1496.4 L1921 1497.1 L1925.5 1496.3 L1930 1496.9 L1934.5 1496.4 L1938.9 1490.4 L1943.4 1497.3 L1947.9 1491.2 L1952.4 1496.9 L1956.8 1497.3 L1961.3 1490.8 L1965.8 1490.2 L1970.3 1498.2 L1974.8 1491 L1979.2 1499 L1983.7 1492 L1988.2 1497.4 L1992.7 1491.8 L1997.2 1492.4 L2001.6 1498.6 L2006.1 1498.6 L2010.6 1492.3 L2015.1 1498.7 L2019.6 1491.1 L2024 1491.3 L2028.5 1490 L2033 1498.5 L2037.5 1491.4 L2042 1496.7 L2046.4 1489.6 L2050.9 1496.7 L2055.4 1490 L2059.9 1497.2 L2064.3 1491.3 L2068.8 1498.2 L2073.3 1490.5 L2077.8 1497.5 L2082.3 1492.8 L2086.7 1491.7 L2091.2 1492.7 L2095.7 1498.9 L2100.2 1491.5 L2104.7 1498.9 L2109.2 1499.9 L2113.7 1491.5 L2118.1 1492 L2122.6 1499.9 L2127.1 1492.1 L2131.6 1500.1 L2136.1 1493.1 L2140.6 1499.7 L2145 1491.9 L2149.5 1491.7 L2154 1500.3 L2158.5 1500.3 L2163 1493.5 L2164 1499.1" stroke="#37ad6b" stroke-width="6" stroke-dasharray="25 35" stroke-linecap="round"/>
<path d="M254 1540.8 L258.5 1528.7 L263 1531.3 L267.5 1521.7 L272 1525.6 L276.5 1516.7 L281 1522 L285.5 1515.8 L290 1520.1 L294.5 1512.7 L299 1519.3 L303.5 1517.8 L308 1518 L312.5 1518.2 L317 1517.3 L321.5 1517.5 L326 1518 L330.5 1509.5 L335 1516.2 L339.5 1515.5 L344 1515.7 L348.5 1509.1 L353 1508 L357.5 1508 L362 1514.7 L366.5 1515.8 L371 1514.4 L375.5 1507 L380 1508 L384.5 1507.6 L389 1512.4 L393.5 1513.6 L398 1505.2 L402.5 1512.9 L407 1512.1 L411.5 1504.9 L416 1504.4 L420.5 1511.2 L425 1503.2 L429.5 1504 L434 1511.4 L438.5 1503.4 L443 1502.8 L447.5 1503.5 L452 1510.6 L456.5 1503.7 L461 1503.2 L465.5 1503.9 L470 1509 L474.5 1504.1 L479 1510.2 L483.5 1503.1 L488 1502 L492.5 1502 L497 1509.1 L501.5 1501.4 L506 1509.2 L510.5 1501.3 L515 1508.1 L519.5 1507.3 L524 1506.9 L528.5 1501.3 L533 1507.3 L537.5 1501 L542 1505.6 L546.5 1498.9 L551 1505.3 L555.5 1505.9 L560 1505.9 L564.5 1498.7 L569 1498.8 L573.5 1497.7 L578 1505.8 L582.5 1505.3 L587 1498 L591.5 1504.9 L596 1505.8 L600.5 1504.1 L605 1505.1 L609.5 1497.7 L614 1498.8 L618.5 1504 L623 1496.7 L627.5 1496.9 L632 1503.2 L636.5 1503.7 L641 1503 L645.5 1496.5 L650 1498 L654.5 1498 L659 1504.7 L663.5 1496.8 L668 1496.9 L672.5 1497.3 L677 1496.3 L681.5 1496 L686 1502.2 L690.5 1496.2 L695 1500.8 L699.5 1495.1 L704 1500.7 L708.5 1494.2 L712.9 1493.1 L717.4 1493.4 L721.9 1500.2 L726.4 1499.8 L730.9 1492.4 L735.4 1491.6 L739.8 1497.6 L744.3 1497.8 L748.8 1495.9 L753.3 1496 L757.7 1489.6 L762.2 1488.8 L766.7 1496.5 L771.2 1487.1 L775.6 1486.4 L780.1 1487.2 L784.6 1493.3 L789 1484.1 L793.5 1489.6 L797.9 1489.4 L802.4 1489.7 L806.8 1488.7 L811.3 1488.4 L815.7 1480.2 L820.1 1488.3 L824.6 1479.6 L829 1478.3 L833.5 1478.2 L837.9 1484.9 L842.3 1474.5 L846.7 1481.3 L851.1 1472 L855.5 1477.6 L859.9 1467.7 L864.3 1466.4 L868.7 1472.9 L873.1 1473.2 L877.5 1465.5 L881.9 1471 L886.2 1465.2 L890.6 1471.9 L895 1462.2 L899.4 1468.7 L903.7 1461.7 L908.1 1467.8 L912.5 1458.6 L916.8 1465.3 L921.2 1456.4 L925.5 1465.4 L929.9 1456.1 L934.2 1462.5 L938.6 1453.7 L942.9 1460.6 L947.2 1452.5 L951.6 1458.4 L955.9 1449.6 L960.2 1457.3 L964.6 1447.8 L968.9 1456.7 L973.2 1447.9 L977.5 1453.9 L981.8 1454.3 L986.1 1454.6 L990.4 1445 L994.7 1445.5 L999.1 1445.3 L1003.4 1455.1 L1007.7 1453.2 L1012 1453.2 L1016.3 1446 L1020.6 1453.3 L1024.9 1445.4 L1029.2 1444.6 L1033.5 1446.7 L1037.8 1453.8 L1042.2 1454.3 L1046.5 1453.8 L1050.8 1444.8 L1055.1 1454.6 L1059.4 1445 L1063.7 1447.2 L1068 1447.1 L1072.3 1453.3 L1076.6 1455.6 L1080.9 1446.1 L1085.3 1454.6 L1089.6 1457.4 L1093.9 1448.8 L1098.2 1459 L1102.5 1451 L1106.9 1459 L1111.2 1457.9 L1115.5 1451.9 L1119.9 1450.3 L1124.2 1452.2 L1128.5 1459.5 L1132.8 1458.6 L1137.2 1451.6 L1141.5 1451 L1145.8 1453.5 L1150.2 1461.5 L1154.5 1462.2 L1158.9 1456.6 L1163.2 1456.7 L1167.5 1464 L1171.9 1465.9 L1176.3 1465.7 L1180.6 1458.6 L1185 1467.1 L1189.3 1458.8 L1193.7 1466.7 L1198 1458.2 L1202.4 1459.6 L1206.7 1465.6 L1211.1 1468 L1215.5 1468.4 L1219.8 1460.8 L1224.2 1461.2 L1228.6 1468.1 L1232.9 1468.8 L1237.3 1460 L1241.7 1460.3 L1246 1460.4 L1250.4 1468.5 L1254.8 1461.2 L1259.1 1461.5 L1263.5 1461.8 L1267.9 1462 L1272.2 1467.5 L1276.6 1461.1 L1281 1467.3 L1285.3 1467.6 L1289.7 1462.2 L1294.1 1469.1 L1298.4 1461.4 L1302.8 1468.5 L1307.2 1461.5 L1311.5 1461.8 L1315.9 1469.5 L1320.3 1470 L1324.6 1468.3 L1329 1460.4 L1333.4 1467.3 L1337.7 1458.9 L1342.1 1459.4 L1346.5 1466.1 L1350.8 1459.4 L1355.2 1465 L1359.5 1464.3 L1363.9 1457.2 L1368.2 1464.5 L1372.6 1455.3 L1376.9 1461.7 L1381.3 1454.2 L1385.6 1460.6 L1389.9 1452.1 L1394.3 1458.8 L1398.6 1458.6 L1402.9 1457.8 L1407.3 1450 L1411.6 1446.9 L1415.9 1452.9 L1420.2 1451.4 L1424.5 1443.2 L1428.8 1449 L1433.1 1446.3 L1437.4 1445.6 L1441.7 1436.1 L1445.9 1435.1 L1450.2 1440 L1454.4 1439.6 L1458.7 1427.6 L1462.9 1427 L1467.2 1434 L1471.4 1429.6 L1475.6 1428.6 L1479.8 1425.1 L1484 1414 L1488.2 1417.6 L1492.4 1413.9 L1496.6 1405.4 L1500.7 1400.9 L1504.8 1392.5 L1508.9 1379.1 L1512.9 1384.1 L1517 1368.9 L1521 1375.1 L1525 1361.1 L1529 1366.2 L1533 1353.8 L1536.9 1361 L1540.9 1355.3 L1544.8 1342.3 L1548.7 1338.7 L1552.6 1341.3 L1556.5 1321.8 L1560.3 1307.7 L1564.1 1299.9 L1567.9 1295.7 L1571.7 1302.9 L1575.4 1299.2 L1579.1 1278.5 L1582.8 1271 L1586.4 1282.6 L1590.1 1274.6 L1593.7 1253 L1597.3 1245.6 L1600.9 1236.8 L1604.4 1240.8 L1607.9 1214.7 L1611.3 1223.3 L1614.7 1194.2 L1618.1 1197.8 L1621.4 1162.4 L1624.7 1174.3 L1627.9 1162.1 L1631.1 1159 L1634.3 1124.2 L1637.4 1134.7 L1640.4 1094.5 L1643.4 1100.7 L1646.4 1068.1 L1649.3 1057.7 L1652.1 1043.1 L1654.9 1061.1 L1657.7 1049.8 L1660.4 1033.9 L1663.1 1019.2 L1665.7 973.4 L1668.3 967.2 L1670.9 985.7 L1673.5 938.9 L1676.1 958.7 L1678.7 909.4 L1681.3 897.2 L1683.9 873.1 L1686.5 887.4 L1689.1 832 L1691.7 821.7 L1694.3 801.8 L1696.9 826.4 L1699.5 776.8 L1702.1 810.5 L1704.7 755 L1707.3 779.6 L1709.9 717.5 L1712.5 737.6 L1715.1 670.3 L1717.7 701.6 L1720.3 679.7 L1722.9 628.9 L1725.5 675.5 L1728.1 659.6 L1730.7 629 L1733.3 545.8 L1735.9 512.6 L1738.5 561.4 L1741.1 541.6 L1743.7 543.3 L1746.3 461.7 L1748.9 523.4 L1751.5 426.1 L1754.1 408.9 L1756.7 393.3 L1759.3 469.5 L1761.9 362.6 L1764.5 455 L1767.1 361.4 L1769.7 420.9 L1772.3 436.9 L1774.9 414.6 L1777.5 344.6 L1780.1 427.4 L1782.7 336 L1785.3 336 L1787.9 336.7 L1790.5 418.5 L1793.1 439.3 L1795.7 438.6 L1798.3 354.9 L1800.9 435.8 L1803.5 390.3 L1806.1 411.5 L1808.7 411.5 L1811.3 510.4 L1813.9 473.1 L1816.5 558.2 L1819.1 528.2 L1821.7 551 L1824.3 554.4 L1826.9 642.5 L1829.5 604.8 L1832.1 736.3 L1834.7 730 L1837.3 792.3 L1839.9 772.4 L1842.5 790.2 L1845.1 865.5 L1847.7 880.4 L1850.3 895.4 L1852.9 963.5 L1855.5 976.8 L1858.1 1012.2 L1860.8 1067.3 L1863.7 1107.3 L1866.8 1132.4 L1869.9 1160.6 L1873.1 1192.8 L1876.5 1241.5 L1880 1267 L1883.6 1291 L1887.3 1314.8 L1891 1336.7 L1894.9 1346.7 L1898.8 1379 L1902.9 1387.5 L1906.9 1411.7 L1911.1 1427 L1915.3 1433.6 L1919.6 1448.3 L1923.9 1470.9 L1928.3 1485.5 L1932.7 1490.9 L1937.1 1487.4 L1941.6 1489.3 L1946.1 1489.3 L1950.5 1497.2 L1955 1491.3 L1959.5 1496.7 L1964 1490.7 L1968.5 1491 L1972.9 1490.5 L1977.4 1497.5 L1981.9 1498.9 L1986.4 1499.1 L1990.9 1490.8 L1995.3 1499 L1999.8 1491.7 L2004.3 1492.6 L2008.8 1491.2 L2013.3 1497.2 L2017.7 1492.2 L2022.2 1497.8 L2026.7 1491.9 L2031.2 1497.6 L2035.7 1490 L2040.1 1496.8 L2044.6 1489.9 L2049.1 1498.6 L2053.6 1491.6 L2058 1497.3 L2062.5 1497.9 L2067 1490 L2071.5 1491.1 L2076 1498.2 L2080.4 1490.9 L2084.9 1491.2 L2089.4 1497.5 L2093.9 1497.7 L2098.3 1498.2 L2102.8 1497.8 L2107.3 1491.5 L2111.8 1497.6 L2116.2 1490.8 L2120.7 1497.8 L2125.2 1491.4 L2129.7 1497.5 L2134.2 1497.8 L2138.6 1496 L2143.1 1491.1 L2147.6 1489 L2152.1 1488.9 L2156.5 1495.9 L2161 1488.6 L2164 1496.2" stroke="#ae78de" stroke-width="6" stroke-dasharray="25 35" stroke-linecap="round"/>
</g>
<path d="M251 32V1592M2164 32V1592M248 35H2167M248 1577H2167" stroke="#000" stroke-width="6" fill="none"/><path d="M254 1510 H281 M254 1241.8 H281 M254 973.6 H281 M254 705.4 H281 M254 437.2 H281 M254 169 H281 M254 1375.9 H266 M254 1107.7 H266 M254 839.5 H266 M254 571.3 H266 M254 303.1 H266 M2161 1503.8 H2134 M2161 1136.5 H2134 M2161 769.2 H2134 M2161 401.9 H2134 M2161 1320.1 H2149 M2161 952.8 H2149 M2161 585.5 H2149 M2161 218.2 H2149" stroke="#000" stroke-width="6" fill="none"/><path d="M442.3 1580 V1607 M824.9 1580 V1607 M1207.5 1580 V1607 M1590.1 1580 V1607 M1972.7 1580 V1607 M633.6 1580 V1592 M1016.2 1580 V1592 M1398.8 1580 V1592 M1781.4 1580 V1592" stroke="#000" stroke-width="5" fill="none"/>
<text class="t" transform="translate(218.5 1535) scale(1.108 1)" font-size="58.5" text-anchor="end">0</text>
<text class="t" transform="translate(218.5 1266.8) scale(1.108 1)" font-size="58.5" text-anchor="end">20</text>
<text class="t" transform="translate(218.5 998.6) scale(1.108 1)" font-size="58.5" text-anchor="end">40</text>
<text class="t" transform="translate(218.5 730.4) scale(1.108 1)" font-size="58.5" text-anchor="end">60</text>
<text class="t" transform="translate(218.5 462.2) scale(1.108 1)" font-size="58.5" text-anchor="end">80</text>
<text class="t" transform="translate(218.5 194) scale(1.108 1)" font-size="58.5" text-anchor="end">100</text>
<text class="t" transform="translate(2196.5 59.9) scale(1.108 1)" font-size="58.5" text-anchor="start">-2<tspan dx="-6.3">.</tspan><tspan dx="7.4">0</tspan></text>
<text class="t" transform="translate(2196.5 427.2) scale(1.108 1)" font-size="58.5" text-anchor="start">-1<tspan dx="-6.3">.</tspan><tspan dx="7.4">5</tspan></text>
<text class="t" transform="translate(2196.5 794.5) scale(1.108 1)" font-size="58.5" text-anchor="start">-1<tspan dx="-6.3">.</tspan><tspan dx="7.4">0</tspan></text>
<text class="t" transform="translate(2196.5 1161.8) scale(1.108 1)" font-size="58.5" text-anchor="start">-0<tspan dx="-6.3">.</tspan><tspan dx="7.4">5</tspan></text>
<text class="t" transform="translate(2196.5 1529.1) scale(1.108 1)" font-size="58.5" text-anchor="start">0<tspan dx="-6.3">.</tspan><tspan dx="7.4">0</tspan></text>
<text class="t" transform="translate(443.3 1683.5) scale(1.108 1)" font-size="58.5" text-anchor="middle">100</text>
<text class="t" transform="translate(825.9 1683.5) scale(1.108 1)" font-size="58.5" text-anchor="middle">200</text>
<text class="t" transform="translate(1208.5 1683.5) scale(1.108 1)" font-size="58.5" text-anchor="middle">300</text>
<text class="t" transform="translate(1591.1 1683.5) scale(1.108 1)" font-size="58.5" text-anchor="middle">400</text>
<text class="t" transform="translate(1973.7 1683.5) scale(1.108 1)" font-size="58.5" text-anchor="middle">500</text>
<text class="t" transform="translate(886.7 1789.4) scale(1.128 1)" font-size="71.1" text-anchor="start">Temperature <tspan dx="2.7">(</tspan><tspan dx="-2.7">℃</tspan><tspan dx="-1.8">)</tspan></text>
<text class="t" transform="translate(90.7 1006.5) rotate(-90) scale(1.128 1)" font-size="71.1" text-anchor="start">Weight <tspan dx="3.5">(</tspan><tspan dx="-3.5">%</tspan><tspan dx="-3.5">)</tspan></text>
<text class="t" transform="translate(2412 1188) rotate(-90) scale(1.128 1)" font-size="71.1" text-anchor="start">Deriv.Weight <tspan dx="3.5">(</tspan><tspan dx="-3.5">%/℃</tspan><tspan dx="-1.8">)</tspan></text>
<line x1="302.6" y1="203.4" x2="433.4" y2="203.4" stroke="#4f4f4f" stroke-width="5" stroke-linecap="round"/>
<line x1="302.6" y1="275.4" x2="433.4" y2="275.4" stroke="#ef3c40" stroke-width="5" stroke-linecap="round"/>
<line x1="300" y1="358" x2="430" y2="358" stroke="#37ad6b" stroke-width="6" stroke-linecap="round" stroke-dasharray="25 35"/>
<line x1="300" y1="430" x2="430" y2="430" stroke="#ae78de" stroke-width="6" stroke-linecap="round" stroke-dasharray="25 35"/>
<text class="t" transform="translate(465.1 225.9) scale(1.122 1)" font-size="58.5" text-anchor="start">PP TG</text>
<text class="t" transform="translate(465.1 297.8) scale(1.122 1)" font-size="58.5" text-anchor="start">PP-g-AA-MAH TG</text>
<text class="t" transform="translate(462.7 379.6) scale(1.122 1)" font-size="58.5" text-anchor="start">PP DTG</text>
<text class="t" transform="translate(462.7 451.8) scale(1.122 1)" font-size="58.5" text-anchor="start">PP-g-AA-MAH DTG</text>
<line x1="1899" y1="557.5" x2="2024" y2="557.5" stroke="#000" stroke-width="3"/>
<polygon points="2023,546 2069,557.5 2023,569" fill="#000"/>
</svg></body></html>
